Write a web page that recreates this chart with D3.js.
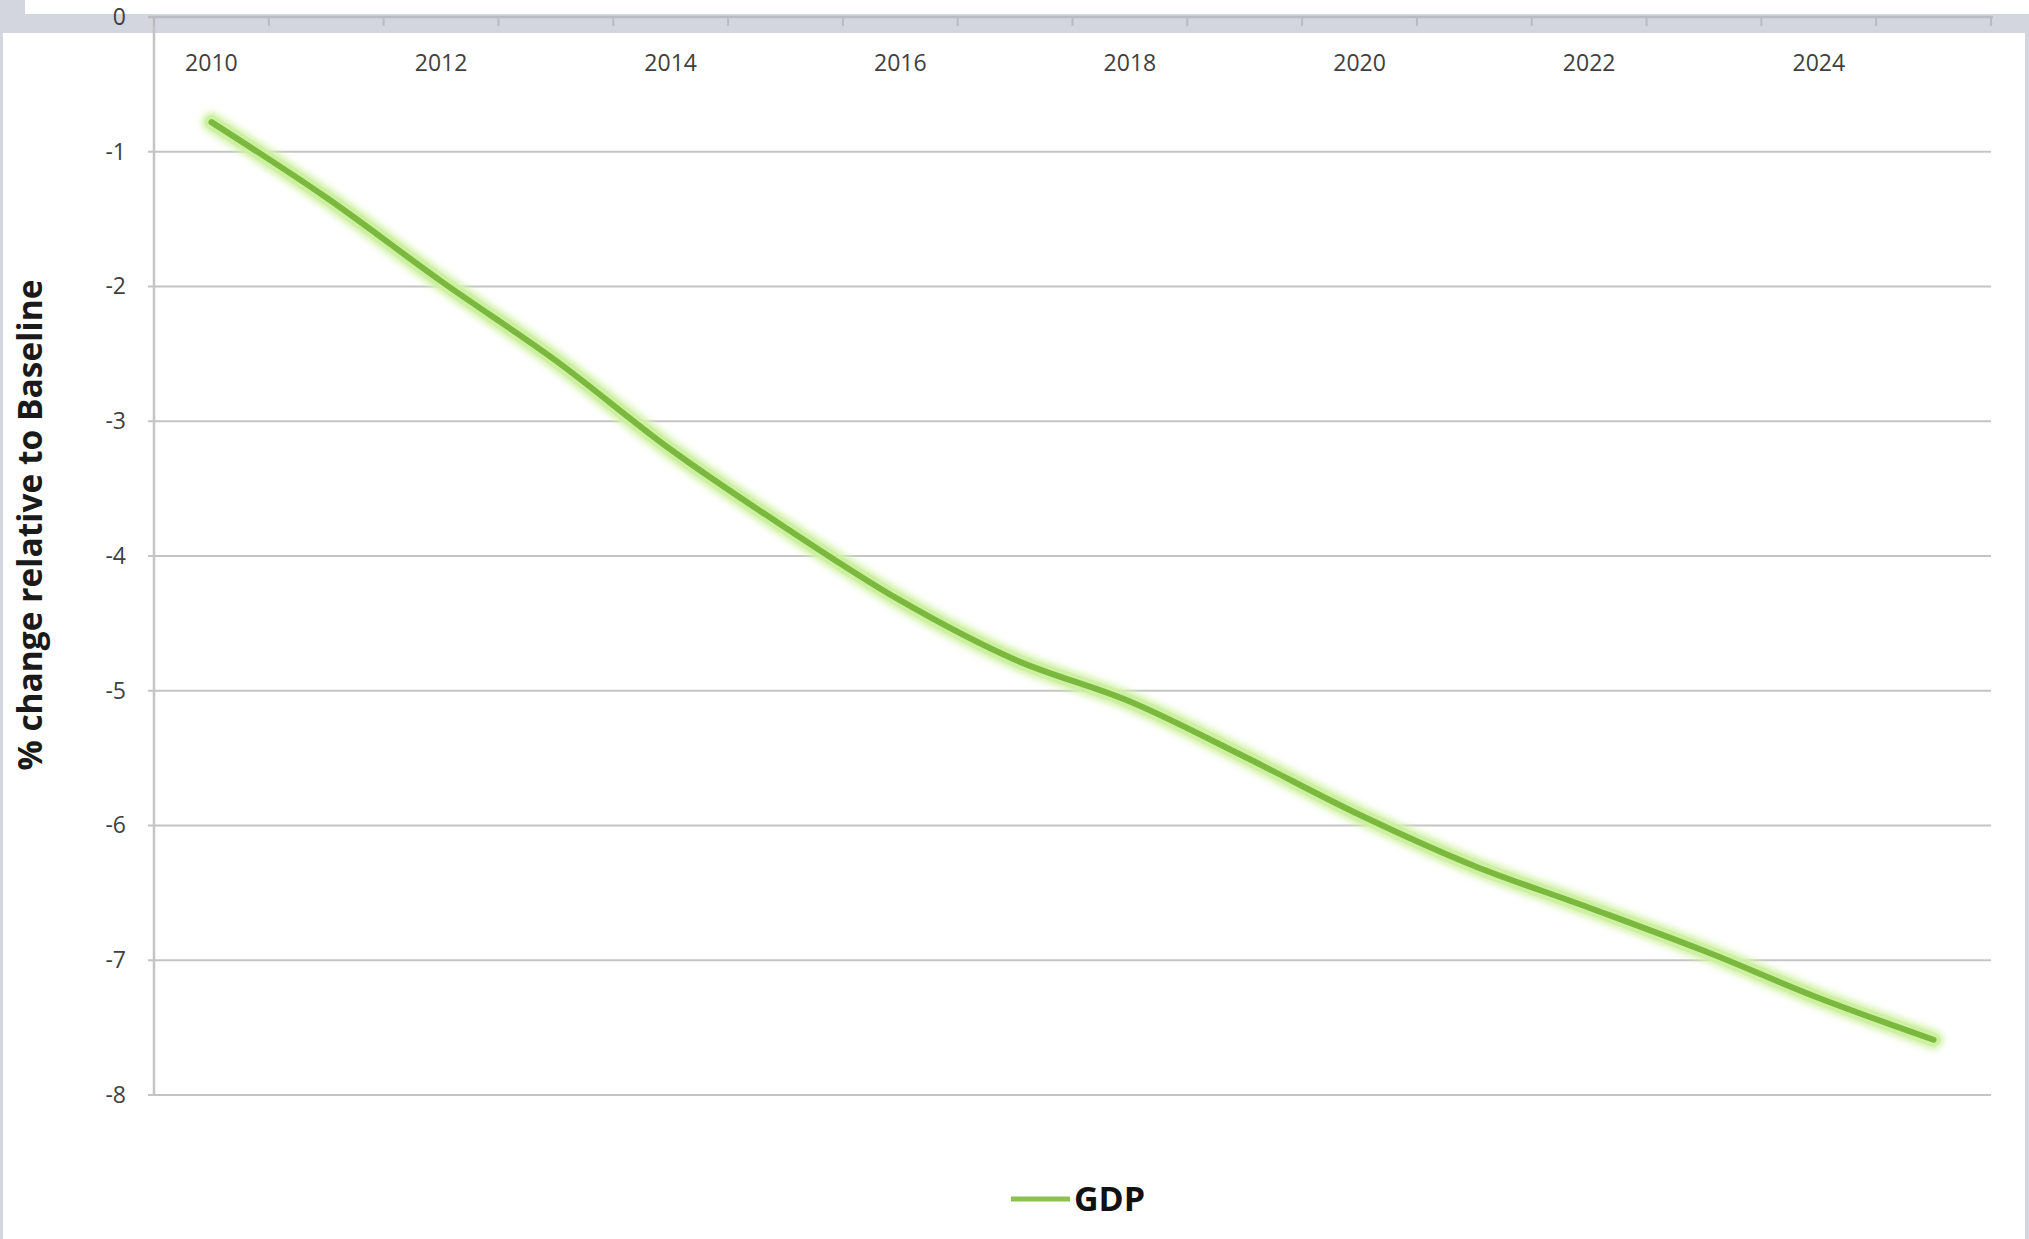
<!DOCTYPE html>
<html>
<head>
<meta charset="utf-8">
<script src="https://cdn.jsdelivr.net/npm/d3@7"></script>
<style>
  html, body { margin: 0; padding: 0; background: #ffffff; }
  svg { display: block; }
</style>
</head>
<body>
<svg id="chart" width="2029" height="1239"></svg>
<script>
// ---- data ----
const years = [2010, 2011, 2012, 2013, 2014, 2015, 2016, 2017, 2018, 2019, 2020, 2021, 2022, 2023, 2024, 2025];
const gdp = [-0.78, -1.34, -1.96, -2.55, -3.21, -3.79, -4.33, -4.77, -5.08, -5.49, -5.92, -6.30, -6.61, -6.93, -7.28, -7.59];
const xTickLabels = [2010, 2012, 2014, 2016, 2018, 2020, 2022, 2024];
const yTicks = [0, -1, -2, -3, -4, -5, -6, -7, -8];
const seriesName = "GDP";
const yTitle = "% change relative to Baseline";

// ---- layout ----
const W = 2029, H = 1239;
const plot = { left: 154, right: 1991, top: 17, bottom: 1095 };
const frameColor = "#d3d6de";
const gridColor = "#c4c4c4";
const textColor = "#404040";
const font = "'Open Sans', 'DejaVu Sans', sans-serif";

const svg = d3.select("#chart");

// frame (window-like grey borders)
svg.append("rect").attr("x", 0).attr("y", 0).attr("width", W).attr("height", H).attr("fill", "#ffffff");
svg.append("rect").attr("x", 0).attr("y", 14).attr("width", W).attr("height", 19).attr("fill", frameColor);
svg.append("rect").attr("x", 0).attr("y", 0).attr("width", 25).attr("height", 33).attr("fill", frameColor);
svg.append("rect").attr("x", 0).attr("y", 0).attr("width", 3).attr("height", H).attr("fill", frameColor);
svg.append("rect").attr("x", 2025).attr("y", 14).attr("width", 4).attr("height", H - 14).attr("fill", frameColor);

// scales
const x = d3.scaleBand().domain(years).range([plot.left, plot.right]).paddingInner(0).paddingOuter(0);
const y = d3.scaleLinear().domain([-8, 0]).range([plot.bottom, plot.top]);
const cx = d => x(d) + x.bandwidth() / 2;

// horizontal gridlines
svg.append("g").selectAll("line").data(yTicks.filter(v => v !== 0)).join("line")
  .attr("x1", plot.left - 6).attr("x2", plot.right)
  .attr("y1", d => y(d)).attr("y2", d => y(d))
  .attr("stroke", gridColor).attr("stroke-width", 2.2);

// y axis (labels + vertical line)
const yAxis = d3.axisLeft(y).tickValues(yTicks).tickSize(0).tickPadding(28).tickFormat(d => String(d));
const gy = svg.append("g").attr("transform", `translate(${plot.left},0)`).call(yAxis);
gy.select(".domain").remove();
gy.selectAll("text").attr("font-family", font).attr("font-size", 23).attr("fill", textColor);
svg.append("line").attr("x1", plot.left).attr("x2", plot.left).attr("y1", plot.top).attr("y2", plot.bottom)
  .attr("stroke", gridColor).attr("stroke-width", 2.5);

// x axis at top (value 0), labels below
const xAxis = d3.axisBottom(x).tickValues(xTickLabels).tickSize(0).tickPadding(38);
const gx = svg.append("g").attr("transform", `translate(0,${y(0)})`).call(xAxis);
gx.select(".domain").remove();
gx.selectAll("text").attr("font-family", font).attr("font-size", 23).attr("fill", textColor);
svg.append("line").attr("x1", plot.left - 6).attr("x2", plot.right + 2).attr("y1", y(0)).attr("y2", y(0))
  .attr("stroke", "#b8bbc2").attr("stroke-width", 2.5);
const boundaries = years.map(d => x(d)).concat([x(years[years.length - 1]) + x.bandwidth()]);
svg.append("g").selectAll("line").data(boundaries).join("line")
  .attr("x1", d => d).attr("x2", d => d).attr("y1", y(0)).attr("y2", y(0) + 9)
  .attr("stroke", "#b8bbc2").attr("stroke-width", 2);

// y title
svg.append("text")
  .attr("transform", `translate(42,${525}) rotate(-90)`)
  .attr("text-anchor", "middle")
  .attr("font-family", font).attr("font-weight", 700).attr("font-size", 33.5)
  .attr("fill", "#1a1a1a")
  .text(yTitle);

// glow filter
const defs = svg.append("defs");
const f = defs.append("filter").attr("id", "glow").attr("x", "-10%").attr("y", "-10%").attr("width", "120%").attr("height", "120%");
f.append("feGaussianBlur").attr("stdDeviation", 3);

// line
const line = d3.line().x((d, i) => cx(years[i])).y(d => y(d)).curve(d3.curveCatmullRom.alpha(0.5));
svg.append("path").datum(gdp).attr("d", line)
  .attr("fill", "none").attr("stroke", "#d4f3aa").attr("stroke-width", 20)
  .attr("stroke-linecap", "round").attr("stroke-linejoin", "round").attr("filter", "url(#glow)");
svg.append("path").datum(gdp).attr("d", line)
  .attr("fill", "none").attr("stroke", "#cbefa0").attr("stroke-width", 14)
  .attr("stroke-linecap", "round").attr("stroke-linejoin", "round").attr("opacity", 0.8);
svg.append("path").datum(gdp).attr("d", line)
  .attr("fill", "none").attr("stroke", "#7ab83e").attr("stroke-width", 6)
  .attr("stroke-linecap", "round").attr("stroke-linejoin", "round");

// legend
const lg = svg.append("g");
lg.append("line").attr("x1", 1011).attr("x2", 1070).attr("y1", 1199).attr("y2", 1199)
  .attr("stroke", "#8cc152").attr("stroke-width", 5);
lg.append("text").attr("x", 1074).attr("y", 1211)
  .attr("font-family", font).attr("font-weight", 700).attr("font-size", 34).attr("fill", "#111")
  .text(seriesName);
</script>
</body>
</html>
